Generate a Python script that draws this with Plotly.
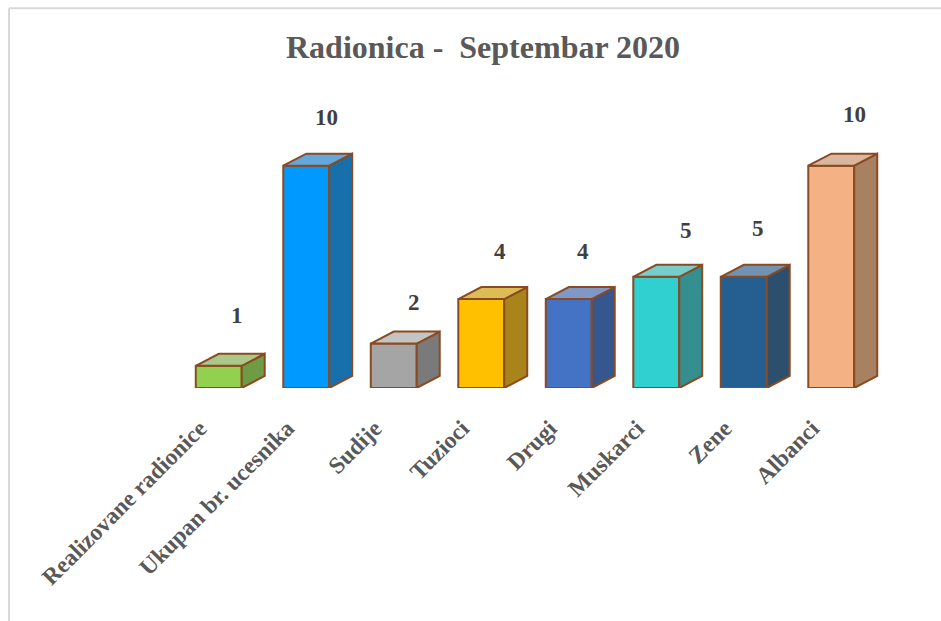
import plotly.graph_objects as go

categories = ["Realizovane radionice", "Ukupan br. ucesnika", "Sudije", "Tuzioci", "Drugi", "Muskarci", "Zene", "Albanci"]
values = [1, 10, 2, 4, 4, 5, 5, 10]
front_colors = ["#92D050", "#0099FF", "#A5A5A5", "#FFC000", "#4472C4", "#30CFD0", "#255E91", "#F4B183"]
side_colors = ["#6E9C44", "#176FAB", "#7A7A7A", "#A8841A", "#35568F", "#348F8E", "#2C4F6E", "#A88062"]
top_colors = ["#AAC88A", "#62A8DC", "#C4C4C4", "#DDBB55", "#7E99C8", "#77CCCC", "#7192B0", "#D9B79E"]
label_dx = [18, 20, 20, 19, 14, 30, 14, 23]   # manual data-label nudges (px)
label_lift = [50, 48, 41, 48, 48, 46, 48, 51]

EDGE = "#8A4B22"
BAR_W = 0.525
DX = 0.263
DY = 0.54

fig = go.Figure()
fig.add_trace(go.Bar(x=list(range(8)), y=values, width=BAR_W,
                     marker=dict(color=front_colors, line=dict(color=EDGE, width=2)),
                     hoverinfo="x+y", showlegend=False))

for i, v in enumerate(values):
    l, r = i - BAR_W / 2, i + BAR_W / 2
    fig.add_trace(go.Scatter(x=[r, r + DX, r + DX, r, r], y=[0, DY, v + DY, v, 0],
                             mode="lines", fill="toself", fillcolor=side_colors[i], cliponaxis=False,
                             line=dict(color=EDGE, width=2), showlegend=False, hoverinfo="skip"))
    fig.add_trace(go.Scatter(x=[l, l + DX, r + DX, r, l], y=[v, v + DY, v + DY, v, v],
                             mode="lines", fill="toself", fillcolor=top_colors[i], cliponaxis=False,
                             line=dict(color=EDGE, width=2), showlegend=False, hoverinfo="skip"))
    fig.add_annotation(x=i, y=v, text=str(v), showarrow=False, xshift=label_dx[i], yshift=label_lift[i],
                       font=dict(family="Liberation Serif", size=23, color="#404040", weight="bold"))

fig.update_layout(
    width=941, height=621, autosize=False,
    margin=dict(l=175, r=31, t=99, b=233.4, autoexpand=False),
    paper_bgcolor="white", plot_bgcolor="white", showlegend=False,
    title=dict(text="<b>Radionica -\u00a0 Septembar 2020</b>", x=0.5133, xanchor="center", xref="container",
               y=0.9243, yanchor="middle",
               font=dict(family="Liberation Serif", size=32, color="#595959")),
    xaxis=dict(range=[-0.5, 7.9], tickmode="array", tickvals=list(range(8)), ticktext=categories, tickangle=-45,
               showgrid=False, zeroline=False, showline=False, ticks="",
               ticklabelshift=-19, ticklabelstandoff=21,
               tickfont=dict(family="Liberation Serif", size=23.5, color="#595959", weight="bold")),
    yaxis=dict(range=[0, 13], visible=False, showgrid=False, zeroline=False),
    shapes=[
        dict(type="line", xref="paper", yref="paper", x0=-166/735, x1=1.1, y0=1+90.5/288.6, y1=1+90.5/288.6, line=dict(color="#D9D9D9", width=2)),
        dict(type="line", xref="paper", yref="paper", x0=-166/735, x1=-166/735, y0=-1, y1=1+90.5/288.6, line=dict(color="#D9D9D9", width=2)),
    ],
)
fig.write_html("out.html", config={"displayModeBar": False},
               post_script="document.body.style.margin='0';document.documentElement.style.overflow='hidden';")
